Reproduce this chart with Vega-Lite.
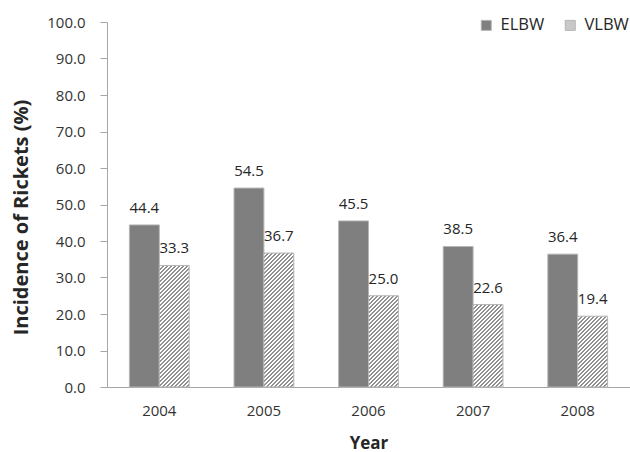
{
  "$schema": "https://vega.github.io/schema/vega-lite/v6.json",
  "width": 523,
  "height": 365,
  "autosize": {"type": "none"},
  "padding": {"left": 107, "top": 22, "right": 0, "bottom": 65},
  "config": {
    "font": "Open Sans",
    "view": {"stroke": null},
    "axis": {"grid": false, "domainColor": "#a6a6a6", "tickColor": "#a6a6a6", "labelFont": "Open Sans", "labelFontSize": 15, "labelColor": "#333333", "titleFont": "Open Sans", "titleFontSize": 17, "titleFontWeight": "bold", "titleColor": "#262626"}
  },
  "params": [
    {
      "name": "hatch",
      "value": [
        {"offset": 0, "color": "#909090"}, {"offset": 0.0119, "color": "#909090"}, {"offset": 0.0119, "color": "#ffffff"}, {"offset": 0.0238, "color": "#ffffff"},
        {"offset": 0.0238, "color": "#909090"}, {"offset": 0.0357, "color": "#909090"}, {"offset": 0.0357, "color": "#ffffff"}, {"offset": 0.0476, "color": "#ffffff"},
        {"offset": 0.0476, "color": "#909090"}, {"offset": 0.0595, "color": "#909090"}, {"offset": 0.0595, "color": "#ffffff"}, {"offset": 0.0714, "color": "#ffffff"},
        {"offset": 0.0714, "color": "#909090"}, {"offset": 0.0833, "color": "#909090"}, {"offset": 0.0833, "color": "#ffffff"}, {"offset": 0.0952, "color": "#ffffff"},
        {"offset": 0.0952, "color": "#909090"}, {"offset": 0.1071, "color": "#909090"}, {"offset": 0.1071, "color": "#ffffff"}, {"offset": 0.1190, "color": "#ffffff"},
        {"offset": 0.1190, "color": "#909090"}, {"offset": 0.1310, "color": "#909090"}, {"offset": 0.1310, "color": "#ffffff"}, {"offset": 0.1429, "color": "#ffffff"},
        {"offset": 0.1429, "color": "#909090"}, {"offset": 0.1548, "color": "#909090"}, {"offset": 0.1548, "color": "#ffffff"}, {"offset": 0.1667, "color": "#ffffff"},
        {"offset": 0.1667, "color": "#909090"}, {"offset": 0.1786, "color": "#909090"}, {"offset": 0.1786, "color": "#ffffff"}, {"offset": 0.1905, "color": "#ffffff"},
        {"offset": 0.1905, "color": "#909090"}, {"offset": 0.2024, "color": "#909090"}, {"offset": 0.2024, "color": "#ffffff"}, {"offset": 0.2143, "color": "#ffffff"},
        {"offset": 0.2143, "color": "#909090"}, {"offset": 0.2262, "color": "#909090"}, {"offset": 0.2262, "color": "#ffffff"}, {"offset": 0.2381, "color": "#ffffff"},
        {"offset": 0.2381, "color": "#909090"}, {"offset": 0.2500, "color": "#909090"}, {"offset": 0.2500, "color": "#ffffff"}, {"offset": 0.2619, "color": "#ffffff"},
        {"offset": 0.2619, "color": "#909090"}, {"offset": 0.2738, "color": "#909090"}, {"offset": 0.2738, "color": "#ffffff"}, {"offset": 0.2857, "color": "#ffffff"},
        {"offset": 0.2857, "color": "#909090"}, {"offset": 0.2976, "color": "#909090"}, {"offset": 0.2976, "color": "#ffffff"}, {"offset": 0.3095, "color": "#ffffff"},
        {"offset": 0.3095, "color": "#909090"}, {"offset": 0.3214, "color": "#909090"}, {"offset": 0.3214, "color": "#ffffff"}, {"offset": 0.3333, "color": "#ffffff"},
        {"offset": 0.3333, "color": "#909090"}, {"offset": 0.3452, "color": "#909090"}, {"offset": 0.3452, "color": "#ffffff"}, {"offset": 0.3571, "color": "#ffffff"},
        {"offset": 0.3571, "color": "#909090"}, {"offset": 0.3690, "color": "#909090"}, {"offset": 0.3690, "color": "#ffffff"}, {"offset": 0.3810, "color": "#ffffff"},
        {"offset": 0.3810, "color": "#909090"}, {"offset": 0.3929, "color": "#909090"}, {"offset": 0.3929, "color": "#ffffff"}, {"offset": 0.4048, "color": "#ffffff"},
        {"offset": 0.4048, "color": "#909090"}, {"offset": 0.4167, "color": "#909090"}, {"offset": 0.4167, "color": "#ffffff"}, {"offset": 0.4286, "color": "#ffffff"},
        {"offset": 0.4286, "color": "#909090"}, {"offset": 0.4405, "color": "#909090"}, {"offset": 0.4405, "color": "#ffffff"}, {"offset": 0.4524, "color": "#ffffff"},
        {"offset": 0.4524, "color": "#909090"}, {"offset": 0.4643, "color": "#909090"}, {"offset": 0.4643, "color": "#ffffff"}, {"offset": 0.4762, "color": "#ffffff"},
        {"offset": 0.4762, "color": "#909090"}, {"offset": 0.4881, "color": "#909090"}, {"offset": 0.4881, "color": "#ffffff"}, {"offset": 0.5000, "color": "#ffffff"},
        {"offset": 0.5000, "color": "#909090"}, {"offset": 0.5119, "color": "#909090"}, {"offset": 0.5119, "color": "#ffffff"}, {"offset": 0.5238, "color": "#ffffff"},
        {"offset": 0.5238, "color": "#909090"}, {"offset": 0.5357, "color": "#909090"}, {"offset": 0.5357, "color": "#ffffff"}, {"offset": 0.5476, "color": "#ffffff"},
        {"offset": 0.5476, "color": "#909090"}, {"offset": 0.5595, "color": "#909090"}, {"offset": 0.5595, "color": "#ffffff"}, {"offset": 0.5714, "color": "#ffffff"},
        {"offset": 0.5714, "color": "#909090"}, {"offset": 0.5833, "color": "#909090"}, {"offset": 0.5833, "color": "#ffffff"}, {"offset": 0.5952, "color": "#ffffff"},
        {"offset": 0.5952, "color": "#909090"}, {"offset": 0.6071, "color": "#909090"}, {"offset": 0.6071, "color": "#ffffff"}, {"offset": 0.6190, "color": "#ffffff"},
        {"offset": 0.6190, "color": "#909090"}, {"offset": 0.6310, "color": "#909090"}, {"offset": 0.6310, "color": "#ffffff"}, {"offset": 0.6429, "color": "#ffffff"},
        {"offset": 0.6429, "color": "#909090"}, {"offset": 0.6548, "color": "#909090"}, {"offset": 0.6548, "color": "#ffffff"}, {"offset": 0.6667, "color": "#ffffff"},
        {"offset": 0.6667, "color": "#909090"}, {"offset": 0.6786, "color": "#909090"}, {"offset": 0.6786, "color": "#ffffff"}, {"offset": 0.6905, "color": "#ffffff"},
        {"offset": 0.6905, "color": "#909090"}, {"offset": 0.7024, "color": "#909090"}, {"offset": 0.7024, "color": "#ffffff"}, {"offset": 0.7143, "color": "#ffffff"},
        {"offset": 0.7143, "color": "#909090"}, {"offset": 0.7262, "color": "#909090"}, {"offset": 0.7262, "color": "#ffffff"}, {"offset": 0.7381, "color": "#ffffff"},
        {"offset": 0.7381, "color": "#909090"}, {"offset": 0.7500, "color": "#909090"}, {"offset": 0.7500, "color": "#ffffff"}, {"offset": 0.7619, "color": "#ffffff"},
        {"offset": 0.7619, "color": "#909090"}, {"offset": 0.7738, "color": "#909090"}, {"offset": 0.7738, "color": "#ffffff"}, {"offset": 0.7857, "color": "#ffffff"},
        {"offset": 0.7857, "color": "#909090"}, {"offset": 0.7976, "color": "#909090"}, {"offset": 0.7976, "color": "#ffffff"}, {"offset": 0.8095, "color": "#ffffff"},
        {"offset": 0.8095, "color": "#909090"}, {"offset": 0.8214, "color": "#909090"}, {"offset": 0.8214, "color": "#ffffff"}, {"offset": 0.8333, "color": "#ffffff"},
        {"offset": 0.8333, "color": "#909090"}, {"offset": 0.8452, "color": "#909090"}, {"offset": 0.8452, "color": "#ffffff"}, {"offset": 0.8571, "color": "#ffffff"},
        {"offset": 0.8571, "color": "#909090"}, {"offset": 0.8690, "color": "#909090"}, {"offset": 0.8690, "color": "#ffffff"}, {"offset": 0.8810, "color": "#ffffff"},
        {"offset": 0.8810, "color": "#909090"}, {"offset": 0.8929, "color": "#909090"}, {"offset": 0.8929, "color": "#ffffff"}, {"offset": 0.9048, "color": "#ffffff"},
        {"offset": 0.9048, "color": "#909090"}, {"offset": 0.9167, "color": "#909090"}, {"offset": 0.9167, "color": "#ffffff"}, {"offset": 0.9286, "color": "#ffffff"},
        {"offset": 0.9286, "color": "#909090"}, {"offset": 0.9405, "color": "#909090"}, {"offset": 0.9405, "color": "#ffffff"}, {"offset": 0.9524, "color": "#ffffff"},
        {"offset": 0.9524, "color": "#909090"}, {"offset": 0.9643, "color": "#909090"}, {"offset": 0.9643, "color": "#ffffff"}, {"offset": 0.9762, "color": "#ffffff"},
        {"offset": 0.9762, "color": "#909090"}, {"offset": 0.9881, "color": "#909090"}, {"offset": 0.9881, "color": "#ffffff"}, {"offset": 1, "color": "#ffffff"}
      ]
    }
  ],
  "data": {
    "values": [
      {"year": "2004", "group": "ELBW", "rate": 44.4},
      {"year": "2004", "group": "VLBW", "rate": 33.3},
      {"year": "2005", "group": "ELBW", "rate": 54.5},
      {"year": "2005", "group": "VLBW", "rate": 36.7},
      {"year": "2006", "group": "ELBW", "rate": 45.5},
      {"year": "2006", "group": "VLBW", "rate": 25.0},
      {"year": "2007", "group": "ELBW", "rate": 38.5},
      {"year": "2007", "group": "VLBW", "rate": 22.6},
      {"year": "2008", "group": "ELBW", "rate": 36.4},
      {"year": "2008", "group": "VLBW", "rate": 19.4}
    ]
  },
  "encoding": {
    "x": {
      "field": "year",
      "type": "nominal",
      "title": "Year",
      "scale": {"paddingInner": 0.4286, "paddingOuter": 0.2143},
      "axis": {"labelAngle": 0, "ticks": false, "tickSize": 0, "labelPadding": 16, "titleY": 61, "titleBaseline": "alphabetic"}
    },
    "xOffset": {"field": "group", "type": "nominal", "scale": {"domain": ["ELBW", "VLBW"], "paddingInner": 0, "paddingOuter": 0}},
    "y": {
      "field": "rate",
      "type": "quantitative",
      "title": "Incidence of Rickets (%)",
      "scale": {"domain": [0, 100], "nice": false},
      "axis": {"values": [0, 10, 20, 30, 40, 50, 60, 70, 80, 90, 100], "format": ".1f", "tickSize": 7, "labelPadding": 15, "titleFontSize": 20, "titleAngle": -90, "titleAlign": "center", "titleBaseline": "middle", "titleX": -86, "titleY": 195}
    }
  },
  "layer": [
    {
      "transform": [{"filter": "datum.group === 'ELBW'"}],
      "mark": {"type": "bar", "stroke": "#b5b5b5", "strokeWidth": 1},
      "encoding": {
        "color": {
          "field": "group",
          "type": "nominal",
          "scale": {"domain": ["ELBW", "VLBW"], "range": ["#7f7f7f", "#c8c8c8"]},
          "legend": {
            "title": null,
            "orient": "none",
            "direction": "horizontal",
            "legendX": 371,
            "legendY": -5,
            "padding": 0,
            "symbolType": "square",
            "symbolSize": 100,
            "symbolStrokeWidth": 1,
            "labelFont": "Open Sans",
            "labelFontSize": 16.5,
            "labelColor": "#262626",
            "labelOffset": 6,
            "columnPadding": 17,
            "encode": {
              "symbols": {
                "update": {
                  "fill": {"signal": "datum.value === 'VLBW' ? {gradient: 'linear', x1: 0, y1: 0, x2: 8.4, y2: 8.4, stops: hatch} : '#7f7f7f'"},
                  "stroke": {"value": "#b5b5b5"}
                }
              }
            }
          }
        }
      }
    },
    {
      "transform": [{"filter": "datum.group === 'VLBW'"}],
      "mark": {
        "type": "bar",
        "stroke": "#b5b5b5",
        "strokeWidth": 1,
        "fill": {"expr": "{gradient: 'linear', x1: 0, y1: 0, x2: 5040 / (900 + pow(3.65 * datum.rate, 2)), y2: 613.2 * datum.rate / (900 + pow(3.65 * datum.rate, 2)), stops: hatch}"}
      }
    },
    {
      "mark": {"type": "text", "font": "Open Sans", "fontSize": 15, "color": "#262626", "baseline": "alphabetic", "dy": -12},
      "encoding": {"text": {"field": "rate", "type": "quantitative", "format": ".1f"}}
    }
  ]
}
